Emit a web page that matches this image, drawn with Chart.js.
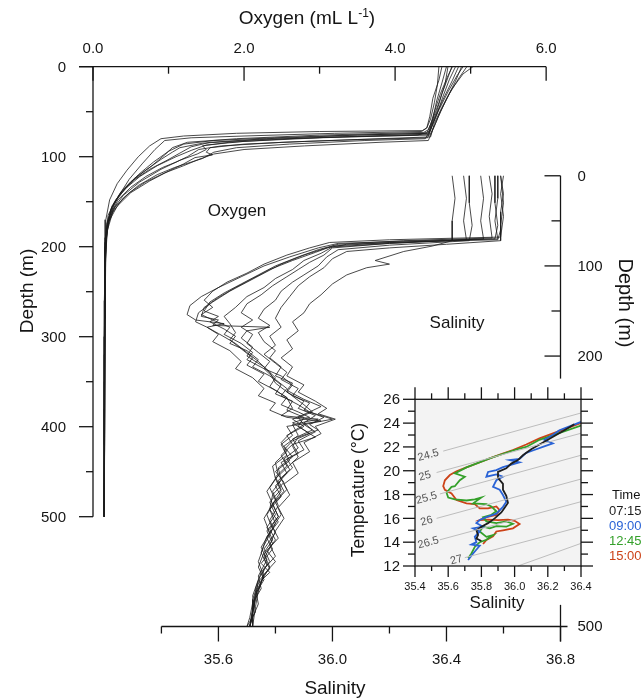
<!DOCTYPE html>
<html>
<head>
<meta charset="utf-8">
<script src="https://cdn.jsdelivr.net/npm/chart.js@4.4.1/dist/chart.umd.min.js"></script>
<style>
  body { margin: 0; background: #fff; }
  #wrap { position: relative; width: 641px; height: 699px; }
  #main { position: absolute; left: 0; top: 0; }
  #inset { position: absolute; left: 340px; top: 378px; }
</style>
</head>
<body>
<div id="wrap">
  <canvas id="main" width="641" height="699"></canvas>
  <canvas id="inset" width="301" height="234"></canvas>
</div>
<script>
// oxygen casts: [oxygen mL/L, depth m]
const o2Cast1 = [[4.62,0],[4.58,15],[4.5,35],[4.46,55],[4.42,68],[4.35,72],[3.2,74],[2.0,77],[1.3,79],[0.95,82],[0.82,92],[0.65,108],[0.48,125],[0.33,145],[0.22,165],[0.17,190],[0.16,230],[0.15,320],[0.15,420],[0.14,500]];
const o2Cast2 = [[4.75,0],[4.7,12],[4.62,30],[4.55,50],[4.48,65],[4.44,74],[3.4,76],[2.4,79],[1.6,82],[1.2,86],[1.0,94],[0.8,106],[0.6,120],[0.42,136],[0.28,152],[0.2,172],[0.17,200],[0.16,280],[0.15,380],[0.15,500]];
const o2Cast3 = [[4.9,0],[4.82,10],[4.7,28],[4.58,48],[4.5,62],[4.45,75],[3.6,77],[2.6,80],[1.8,84],[1.45,88],[1.5,92],[1.38,97],[1.15,104],[0.9,114],[0.62,128],[0.4,143],[0.27,158],[0.19,178],[0.16,205],[0.15,300],[0.15,500]];
const o2Cast4 = [[5.03,0],[4.9,8],[4.75,25],[4.62,45],[4.52,63],[4.47,78],[3.8,80],[2.8,83],[2.0,86],[1.55,90],[1.5,95],[1.58,98],[1.35,101],[1.2,108],[1.0,116],[0.75,127],[0.5,140],[0.32,155],[0.21,172],[0.17,195],[0.16,260],[0.15,500]];
const o2Cast5 = [[4.68,0],[4.62,18],[4.55,38],[4.5,58],[4.44,70],[4.38,73],[3.0,76],[1.9,80],[1.25,84],[1.05,90],[0.95,98],[0.78,110],[0.55,124],[0.38,138],[0.25,155],[0.18,175],[0.16,210],[0.15,350],[0.15,500]];
const o2Cast6 = [[4.84,0],[4.76,15],[4.66,32],[4.56,50],[4.48,68],[4.43,79],[3.5,81],[2.5,84],[1.7,88],[1.4,92],[1.25,100],[1.1,106],[0.92,112],[0.7,122],[0.5,134],[0.33,148],[0.23,165],[0.18,185],[0.16,230],[0.15,500]];
const o2Cast7 = [[4.95,0],[4.85,12],[4.72,30],[4.6,50],[4.52,66],[4.46,76],[3.3,78],[2.2,81],[1.45,85],[1.15,90],[1.05,95],[0.9,103],[0.7,115],[0.5,128],[0.35,142],[0.24,158],[0.18,180],[0.16,220],[0.15,500]];
const o2Cast8 = [[4.7,0],[4.66,20],[4.58,40],[4.5,58],[4.45,72],[4.3,76],[3.0,79],[2.0,83],[1.5,87],[1.3,93],[1.1,100],[0.85,110],[0.62,122],[0.45,134],[0.3,148],[0.2,165],[0.17,190],[0.15,300],[0.15,500]];
const o2Cast9 = [[4.8,0],[4.72,14],[4.63,34],[4.55,54],[4.47,70],[4.4,80],[3.6,82],[2.6,86],[1.9,90],[1.6,95],[1.45,102],[1.3,106],[1.08,112],[0.85,120],[0.6,132],[0.4,146],[0.26,162],[0.19,182],[0.16,220],[0.15,500]];
const o2Cast10 = [[4.58,0],[4.56,20],[4.52,40],[4.47,58],[4.42,68],[4.36,71],[3.0,72],[1.9,74],[1.2,77],[0.9,80],[0.75,88],[0.6,100],[0.45,115],[0.32,130],[0.22,148],[0.17,170],[0.16,210],[0.15,500]];
const o2Cast11 = [[4.88,0],[4.8,16],[4.68,36],[4.57,56],[4.5,70],[4.44,82],[3.8,84],[2.8,88],[2.0,92],[1.6,97],[1.4,103],[1.2,110],[0.95,118],[0.7,128],[0.48,140],[0.3,155],[0.2,172],[0.17,195],[0.15,260],[0.15,500]];
const o2Cast12 = [[4.76,0],[4.7,10],[4.6,30],[4.52,50],[4.47,64],[4.42,74],[3.5,76],[2.3,80],[1.55,84],[1.3,89],[1.15,96],[0.98,104],[0.75,114],[0.54,126],[0.37,140],[0.25,156],[0.19,174],[0.16,200],[0.15,500]];

// salinity casts: [salinity, depth m]
const salCast1 = [[36.59,0],[36.6,20],[36.59,40],[36.59,60],[36.58,71],[36.3,73],[36.05,76],[35.98,80],[35.9,88],[35.82,98],[35.76,108],[35.7,118],[35.64,128],[35.58,140],[35.53,152],[35.52,162],[35.56,168],[35.6,175],[35.66,186],[35.7,196],[35.74,206],[35.78,218],[35.8,230],[35.85,242],[35.9,254],[35.93,262],[35.88,268],[35.9,276],[35.85,286],[35.82,296],[35.84,306],[35.8,318],[35.81,332],[35.78,346],[35.8,360],[35.77,376],[35.79,392],[35.76,410],[35.74,428],[35.76,445],[35.73,462],[35.72,480],[35.71,500]];
const salCast2 = [[36.58,0],[36.58,25],[36.57,50],[36.58,70],[36.2,74],[36.0,78],[35.94,85],[35.86,94],[35.78,104],[35.72,114],[35.66,124],[35.6,135],[35.55,146],[35.54,156],[35.6,160],[35.58,166],[35.78,168],[35.7,172],[35.68,180],[35.72,190],[35.7,200],[35.76,212],[35.8,224],[35.78,234],[35.84,246],[35.86,258],[35.82,266],[35.95,270],[35.86,276],[35.88,288],[35.83,300],[35.86,312],[35.81,324],[35.82,338],[35.79,350],[35.81,366],[35.78,382],[35.8,396],[35.76,414],[35.78,428],[35.75,440],[35.73,458],[35.74,475],[35.72,490],[35.71,500]];
const salCast3 = [[36.55,0],[36.56,20],[36.55,45],[36.56,69],[36.25,72],[36.02,76],[35.95,82],[35.88,90],[35.8,100],[35.74,110],[35.68,120],[35.62,130],[35.57,140],[35.55,150],[35.6,156],[35.57,162],[35.62,170],[35.66,178],[35.64,186],[35.7,194],[35.74,204],[35.72,212],[35.78,222],[35.82,232],[35.8,242],[35.86,250],[35.84,260],[35.9,268],[35.88,278],[35.92,286],[35.86,294],[35.83,304],[35.85,316],[35.8,328],[35.83,340],[35.79,354],[35.78,370],[35.81,384],[35.77,400],[35.75,418],[35.77,432],[35.74,448],[35.72,466],[35.73,484],[35.7,500]];
const salCast4 = [[36.52,0],[36.53,25],[36.52,50],[36.53,70],[36.2,75],[36.0,79],[35.96,86],[35.9,94],[35.86,104],[35.8,114],[35.76,124],[35.7,134],[35.66,146],[35.62,156],[35.64,164],[35.66,174],[35.64,182],[35.68,192],[35.72,202],[35.7,210],[35.76,220],[35.74,228],[35.8,238],[35.84,246],[35.82,254],[35.88,262],[35.92,268],[35.86,274],[35.9,282],[35.94,290],[35.86,298],[35.88,308],[35.82,318],[35.84,330],[35.8,344],[35.82,356],[35.78,370],[35.8,386],[35.77,402],[35.79,414],[35.75,430],[35.78,440],[35.74,452],[35.72,470],[35.72,488],[35.71,500]];
const salCast5 = [[36.48,0],[36.48,30],[36.49,55],[36.48,72],[36.2,77],[36.02,82],[35.98,90],[35.95,100],[35.9,110],[35.86,118],[35.82,128],[35.8,138],[35.76,148],[35.74,158],[35.78,166],[35.74,174],[35.76,184],[35.8,194],[35.78,202],[35.82,212],[35.8,222],[35.86,230],[35.84,238],[35.9,248],[35.96,256],[35.92,262],[36.0,270],[35.9,276],[35.94,284],[35.88,294],[35.9,304],[35.84,314],[35.86,324],[35.82,336],[35.84,348],[35.8,362],[35.82,376],[35.79,390],[35.81,402],[35.77,416],[35.8,428],[35.76,442],[35.74,460],[35.73,478],[35.72,500]];
const salCast6 = [[36.42,0],[36.43,25],[36.42,50],[36.42,72],[36.35,78],[36.25,84],[36.15,94],[36.2,98],[36.12,102],[36.05,110],[36.0,120],[35.96,132],[35.92,142],[35.9,152],[35.86,162],[35.88,172],[35.84,182],[35.86,192],[35.82,202],[35.86,212],[35.84,222],[35.9,232],[35.88,240],[35.94,250],[35.98,258],[35.95,264],[36.01,270],[35.94,278],[35.96,286],[35.9,296],[35.92,306],[35.86,318],[35.88,330],[35.83,342],[35.85,354],[35.81,368],[35.83,380],[35.8,394],[35.78,410],[35.8,422],[35.76,436],[35.75,452],[35.73,470],[35.72,486],[35.71,500]];
const salCast7 = [[36.59,0],[36.6,30],[36.59,55],[36.59,72],[36.4,76],[36.2,80],[36.05,84],[36.0,92],[35.97,102],[35.92,112],[35.88,122],[35.85,134],[35.82,146],[35.8,158],[35.82,168],[35.78,178],[35.8,188],[35.76,198],[35.8,208],[35.84,218],[35.82,226],[35.88,236],[35.86,244],[35.92,252],[35.9,260],[35.97,268],[35.92,276],[35.95,282],[35.88,290],[35.86,300],[35.88,312],[35.84,324],[35.8,336],[35.82,350],[35.79,364],[35.81,378],[35.77,394],[35.79,408],[35.76,424],[35.78,436],[35.74,450],[35.73,468],[35.72,486],[35.72,500]];
const salCast8 = [[36.57,0],[36.57,30],[36.58,55],[36.57,70],[36.3,72],[36.02,75],[35.95,80],[35.85,90],[35.76,100],[35.68,112],[35.6,124],[35.54,134],[35.5,144],[35.49,154],[35.52,160],[35.62,164],[35.56,168],[35.6,176],[35.58,184],[35.64,194],[35.68,206],[35.66,214],[35.72,224],[35.76,236],[35.74,244],[35.8,252],[35.78,260],[35.84,268],[35.96,272],[35.84,278],[35.86,288],[35.82,298],[35.84,310],[35.79,322],[35.8,336],[35.77,350],[35.79,364],[35.76,380],[35.78,396],[35.75,412],[35.77,426],[35.74,444],[35.75,458],[35.72,474],[35.71,490],[35.7,500]];
const salCast9 = [[36.46,0],[36.47,25],[36.46,50],[36.47,71],[36.2,75],[36.0,80],[35.97,88],[35.92,96],[35.88,104],[35.84,112],[35.79,122],[35.75,132],[35.7,142],[35.68,152],[35.72,160],[35.68,168],[35.72,176],[35.7,186],[35.74,196],[35.78,206],[35.76,214],[35.82,222],[35.86,232],[35.84,240],[35.9,250],[35.88,258],[35.94,266],[35.9,274],[35.93,282],[35.86,292],[35.88,302],[35.83,314],[35.85,326],[35.81,338],[35.83,350],[35.79,364],[35.81,378],[35.78,392],[35.8,404],[35.76,420],[35.78,434],[35.75,450],[35.73,466],[35.72,484],[35.71,500]];
const salCast10 = [[36.6,0],[36.59,20],[36.6,45],[36.59,68],[36.2,71],[35.99,74],[35.92,80],[35.84,88],[35.76,98],[35.7,108],[35.63,118],[35.58,128],[35.55,138],[35.58,146],[35.54,154],[35.58,160],[35.64,168],[35.62,176],[35.68,186],[35.72,196],[35.7,204],[35.76,214],[35.8,226],[35.84,236],[35.82,244],[35.88,254],[35.92,262],[35.86,270],[35.9,278],[35.84,288],[35.86,298],[35.82,310],[35.84,322],[35.8,334],[35.82,348],[35.78,362],[35.8,376],[35.77,390],[35.79,404],[35.76,418],[35.74,434],[35.76,448],[35.73,464],[35.72,482],[35.71,500]];

// T-S curves: [salinity, temperature]
const ts0715 = [[36.36,23.9],[36.3,23.4],[36.25,23.0],[36.2,22.6],[36.15,22.2],[36.1,21.8],[36.05,21.3],[36.02,20.9],[35.98,20.6],[35.95,20.2],[35.9,19.9],[35.9,19.4],[35.93,18.9],[35.93,18.4],[35.95,17.9],[35.96,17.3],[35.94,16.9],[35.92,16.5],[35.88,16.0],[35.84,15.6],[35.8,15.3],[35.77,15.0],[35.78,14.6],[35.77,14.3],[35.8,14.1]];
const ts0900 = [[36.4,24.1],[36.27,23.4],[36.23,23.0],[36.18,22.6],[36.23,22.3],[36.17,22.0],[36.11,21.7],[36.07,21.5],[36.03,21.0],[35.97,20.9],[36.03,20.7],[35.93,20.3],[35.89,20.05],[35.84,19.9],[35.83,19.5],[35.89,19.7],[35.93,19.5],[35.89,19.2],[35.87,18.65],[35.91,18.4],[35.93,17.96],[35.95,17.4],[35.93,16.97],[35.89,16.4],[35.83,16.1],[35.79,15.86],[35.77,15.6],[35.81,15.3],[35.75,15.16],[35.79,14.9],[35.76,14.45],[35.77,14.0],[35.74,13.8],[35.79,13.7],[35.75,13.05],[35.72,12.5]];
const ts1245 = [[36.4,23.8],[36.15,22.6],[36.07,22.0],[36.03,21.85],[35.99,21.7],[35.85,21.04],[35.71,20.28],[35.64,19.78],[35.7,19.5],[35.67,19.2],[35.64,18.7],[35.62,18.65],[35.59,18.15],[35.6,17.75],[35.64,17.6],[35.71,17.5],[35.76,17.6],[35.8,17.75],[35.75,17.26],[35.83,17.2],[35.86,17.0],[35.89,16.6],[35.86,16.3],[35.81,16.1],[35.83,15.75],[35.89,15.6],[35.95,15.75],[35.99,15.55],[35.95,15.3],[35.89,15.35],[35.85,15.16],[35.81,15.3],[35.79,14.9],[35.83,14.45],[35.87,14.6],[35.83,14.2],[35.79,14.0],[35.76,13.6],[35.74,13.05],[35.72,12.65]];
const ts1500 = [[36.4,24.0],[36.3,23.5],[36.15,22.72],[36.07,22.2],[35.99,21.74],[35.92,21.4],[35.85,21.04],[35.78,20.65],[35.71,20.28],[35.65,19.95],[35.61,19.64],[35.58,19.2],[35.57,18.71],[35.58,18.4],[35.62,18.1],[35.65,17.54],[35.71,17.26],[35.76,17.2],[35.79,16.84],[35.84,16.84],[35.89,17.0],[35.91,16.7],[35.89,16.28],[35.83,16.1],[35.79,15.86],[35.84,15.9],[35.9,15.85],[35.96,15.9],[36.0,15.8],[36.03,15.52],[35.99,15.16],[35.93,15.0],[35.89,14.9],[35.87,14.5],[35.83,14.18],[35.81,13.85]];
const tsTimes = ['07:15', '09:00', '12:45', '15:00'];
const tsColors = ['#1e1e1e', '#2a63d6', '#34a02a', '#cc4218'];

// isopycnals (sigma-t) in the T-S inset
const isoLevels = ['24.5', '25', '25.5', '26', '26.5', '27', ''];
const isoStartS = [35.57, 35.53, 35.55, 35.53, 35.55, 35.7, 36.02];
const isoStartT = [21.65, 19.85, 18.05, 16.0, 14.2, 12.7, 12.0];
const isoEndS = [36.4, 36.4, 36.4, 36.4, 36.4, 36.4, 36.4];
const isoEndT = [24.85, 23.15, 21.3, 19.3, 17.4, 15.3, 13.9];
const isoLabelS = [35.48, 35.46, 35.47, 35.47, 35.48, 35.65, 36.0];
const isoLabelT = [21.3, 19.55, 17.7, 15.77, 13.95, 12.5, 12.0];

// axis ticks
const oxyTicks = [0, 1, 2, 3, 4, 5, 6];
const oxyTickLabels = ['0.0', '', '2.0', '', '4.0', '', '6.0'];
const depthTicks = [0, 50, 100, 150, 200, 250, 300, 350, 400, 450, 500];
const depthTickLabels = ['0', '', '100', '', '200', '', '300', '', '400', '', '500'];
const salTicks = [35.4, 35.6, 35.8, 36.0, 36.2, 36.4, 36.6, 36.8];
const salTickLabels = ['', '35.6', '', '36.0', '', '36.4', '', '36.8'];
const rightDepthTicks = [0, 50, 100, 150, 200];
const rightDepthTickLabels = ['0', '', '100', '', '200'];
const rightAxisGap = [225, 476];
const tsSalTicks = [35.4, 35.5, 35.6, 35.7, 35.8, 35.9, 36.0, 36.1, 36.2, 36.3, 36.4];
const tsTempTicks = [12, 13, 14, 15, 16, 17, 18, 19, 20, 21, 22, 23, 24, 25, 26];

const FONT = "'Liberation Sans', Arial, Helvetica, sans-serif";

function profileSet(points, xAxis, yAxis, color, width) {
    return {
        data: points.map(p => ({ x: p[0], y: p[1] })),
        xAxisID: xAxis,
        yAxisID: yAxis,
        showLine: true,
        borderColor: color,
        borderWidth: width,
        pointRadius: 0,
        tension: 0,
        clip: 4
    };
}

function seg(ctx, x1, y1, x2, y2) {
    ctx.beginPath();
    ctx.moveTo(x1, y1);
    ctx.lineTo(x2, y2);
    ctx.stroke();
}

function label(ctx, str, x, y, align, size, angle) {
    ctx.save();
    ctx.translate(x, y);
    if (angle) ctx.rotate(angle);
    ctx.font = size + 'px ' + FONT;
    ctx.textAlign = align;
    ctx.textBaseline = 'middle';
    ctx.fillText(str, 0, 0);
    ctx.restore();
}

// axes of the main depth-profile chart
const mainAxes = {
    id: 'mainAxes',
    afterDatasetsDraw(chart) {
        const ctx = chart.ctx, s = chart.scales;
        const xO = v => s.xO.getPixelForValue(v), xS = v => s.xS.getPixelForValue(v);
        const yD = v => s.yD.getPixelForValue(v), yS = v => s.yS.getPixelForValue(v);
        ctx.save();
        ctx.strokeStyle = '#151515';
        ctx.fillStyle = '#151515';
        ctx.lineWidth = 1.3;

        // top: oxygen
        const top = yD(0);
        seg(ctx, xO(0) - 14, top, xO(6), top);
        oxyTicks.forEach((v, i) => {
            seg(ctx, xO(v), top, xO(v), top + (oxyTickLabels[i] ? 14 : 7));
            if (oxyTickLabels[i]) label(ctx, oxyTickLabels[i], xO(v), top - 18, 'center', 15);
        });

        // left: depth for oxygen
        const left = xO(0);
        seg(ctx, left, yD(0), left, yD(500));
        depthTicks.forEach((v, i) => {
            seg(ctx, left, yD(v), left - (depthTickLabels[i] ? 14 : 7), yD(v));
            if (depthTickLabels[i]) label(ctx, depthTickLabels[i], left - 27, yD(v) + 1, 'right', 15);
        });

        // bottom: salinity
        const bottom = yS(500);
        seg(ctx, xS(35.4), bottom, xS(36.8) + 7, bottom);
        salTicks.forEach((v, i) => {
            seg(ctx, xS(v), bottom, xS(v), bottom + (salTickLabels[i] ? 15 : 7));
            if (salTickLabels[i]) label(ctx, salTickLabels[i], xS(v), bottom + 33, 'center', 15);
        });

        // right: depth for salinity, broken behind the inset
        const right = xS(36.8);
        seg(ctx, right, yS(0), right, yS(rightAxisGap[0]));
        seg(ctx, right, yS(rightAxisGap[1]), right, bottom + 15);
        rightDepthTicks.forEach((v, i) => {
            seg(ctx, right, yS(v), right - (rightDepthTickLabels[i] ? 16 : 9), yS(v));
            if (rightDepthTickLabels[i]) label(ctx, rightDepthTickLabels[i], right + 17, yS(v) + 1, 'left', 15);
        });
        label(ctx, '500', right + 17, bottom, 'left', 15);

        // titles
        ctx.font = '19px ' + FONT;
        const t1 = 'Oxygen (mL L', sup = '-1', t2 = ')';
        const w1 = ctx.measureText(t1).width, w2 = ctx.measureText(t2).width;
        ctx.font = '12px ' + FONT;
        const ws = ctx.measureText(sup).width;
        let tx = 307 - (w1 + ws + w2) / 2;
        ctx.textAlign = 'left';
        ctx.textBaseline = 'middle';
        ctx.font = '19px ' + FONT;
        ctx.fillText(t1, tx, 19);
        ctx.font = '12px ' + FONT;
        ctx.fillText(sup, tx + w1, 14);
        ctx.font = '19px ' + FONT;
        ctx.fillText(t2, tx + w1 + ws, 19);

        label(ctx, 'Depth (m)', 28, 291, 'center', 19, -Math.PI / 2);
        label(ctx, 'Depth (m)', 625, 303, 'center', 20, Math.PI / 2);
        label(ctx, 'Salinity', 335, 689, 'center', 19);
        label(ctx, 'Oxygen', 237, 211, 'center', 17);
        label(ctx, 'Salinity', 457, 323, 'center', 17);
        ctx.restore();
    }
};

const oxyCasts = [o2Cast1, o2Cast2, o2Cast3, o2Cast4, o2Cast5, o2Cast6, o2Cast7, o2Cast8, o2Cast9, o2Cast10, o2Cast11, o2Cast12];
const salCasts = [salCast1, salCast2, salCast3, salCast4, salCast5, salCast6, salCast7, salCast8, salCast9, salCast10];

new Chart(document.getElementById('main'), {
    type: 'scatter',
    data: {
        datasets: [
            ...oxyCasts.map(c => profileSet(c, 'xO', 'yD', '#1c1c1c', 0.8)),
            ...salCasts.map(c => profileSet(c, 'xS', 'yS', '#1c1c1c', 0.8))
        ]
    },
    options: {
        responsive: false,
        animation: false,
        devicePixelRatio: 1,
        layout: { padding: { left: 93, right: 80.5, top: 66.7, bottom: 72.5 } },
        plugins: { legend: { display: false }, tooltip: { enabled: false } },
        scales: {
            xO: { type: 'linear', position: 'top', min: 0, max: 6.19, display: false },
            xS: { type: 'linear', position: 'bottom', min: 35.16, max: 36.8, display: false },
            yD: { type: 'linear', position: 'left', min: 0, max: 622, reverse: true, display: false },
            yS: { type: 'linear', position: 'right', min: -121, max: 500, reverse: true, display: false }
        }
    },
    plugins: [mainAxes]
});

// axes, isopycnal labels and legend of the T-S inset
const insetAxes = {
    id: 'insetAxes',
    beforeDatasetsDraw(chart) {
        const { ctx, chartArea: a } = chart;
        ctx.save();
        ctx.fillStyle = '#f3f3f3';
        ctx.fillRect(a.left, a.top, a.right - a.left, a.bottom - a.top);
        ctx.restore();
    },
    afterDatasetsDraw(chart) {
        const { ctx, chartArea: a } = chart;
        const x = v => chart.scales.x.getPixelForValue(v), y = v => chart.scales.y.getPixelForValue(v);
        ctx.save();

        ctx.fillStyle = '#555';
        isoLevels.forEach((lvl, i) => {
            if (!lvl) return;
            const ang = Math.atan2(y(isoEndT[i]) - y(isoStartT[i]), x(isoEndS[i]) - x(isoStartS[i]));
            label(ctx, lvl, x(isoLabelS[i]), y(isoLabelT[i]), 'center', 11, ang);
        });

        ctx.strokeStyle = '#151515';
        ctx.fillStyle = '#151515';
        ctx.lineWidth = 1.3;
        ctx.strokeRect(a.left, a.top, a.right - a.left, a.bottom - a.top);
        tsSalTicks.forEach((v, i) => {
            const major = i % 2 === 0;
            seg(ctx, x(v), a.top, x(v), a.top - (major ? 12 : 6));
            seg(ctx, x(v), a.bottom, x(v), a.bottom + (major ? 11 : 5));
            if (major) label(ctx, v.toFixed(1), x(v), a.bottom + 21, 'center', 11);
        });
        tsTempTicks.forEach((v, i) => {
            const major = v % 2 === 0;
            seg(ctx, a.left, y(v), a.left - (major ? 12 : 7), y(v));
            seg(ctx, a.right, y(v), a.right + (major ? 12 : 7), y(v));
            if (major) label(ctx, String(v), a.left - 15, y(v) + 1, 'right', 15);
        });

        label(ctx, 'Temperature (\u00B0C)', 19, 112, 'center', 17.5, -Math.PI / 2);
        label(ctx, 'Salinity', 157, 225, 'center', 17);

        label(ctx, 'Time', 272, 117, 'left', 13);
        tsTimes.forEach((t, i) => {
            ctx.fillStyle = tsColors[i];
            label(ctx, t, 269, 133 + i * 15, 'left', 13);
        });
        ctx.restore();
    }
};

const isoSets = isoLevels.map((lvl, i) => profileSet([[isoStartS[i], isoStartT[i]], [isoEndS[i], isoEndT[i]]], 'x', 'y', '#bdbdbd', 1));
const tsSets = [ts0715, ts0900, ts1245, ts1500].map((c, i) => profileSet(c, 'x', 'y', tsColors[i], 1.8));
tsSets.forEach(d => { d.clip = 0; });

new Chart(document.getElementById('inset'), {
    type: 'scatter',
    data: { datasets: [...isoSets, ...tsSets] },
    options: {
        responsive: false,
        animation: false,
        devicePixelRatio: 1,
        layout: { padding: { left: 75, right: 60, top: 21.3, bottom: 46 } },
        plugins: { legend: { display: false }, tooltip: { enabled: false } },
        scales: {
            x: { type: 'linear', min: 35.4, max: 36.4, display: false },
            y: { type: 'linear', min: 12, max: 26, display: false }
        }
    },
    plugins: [insetAxes]
});
</script>
</body>
</html>
